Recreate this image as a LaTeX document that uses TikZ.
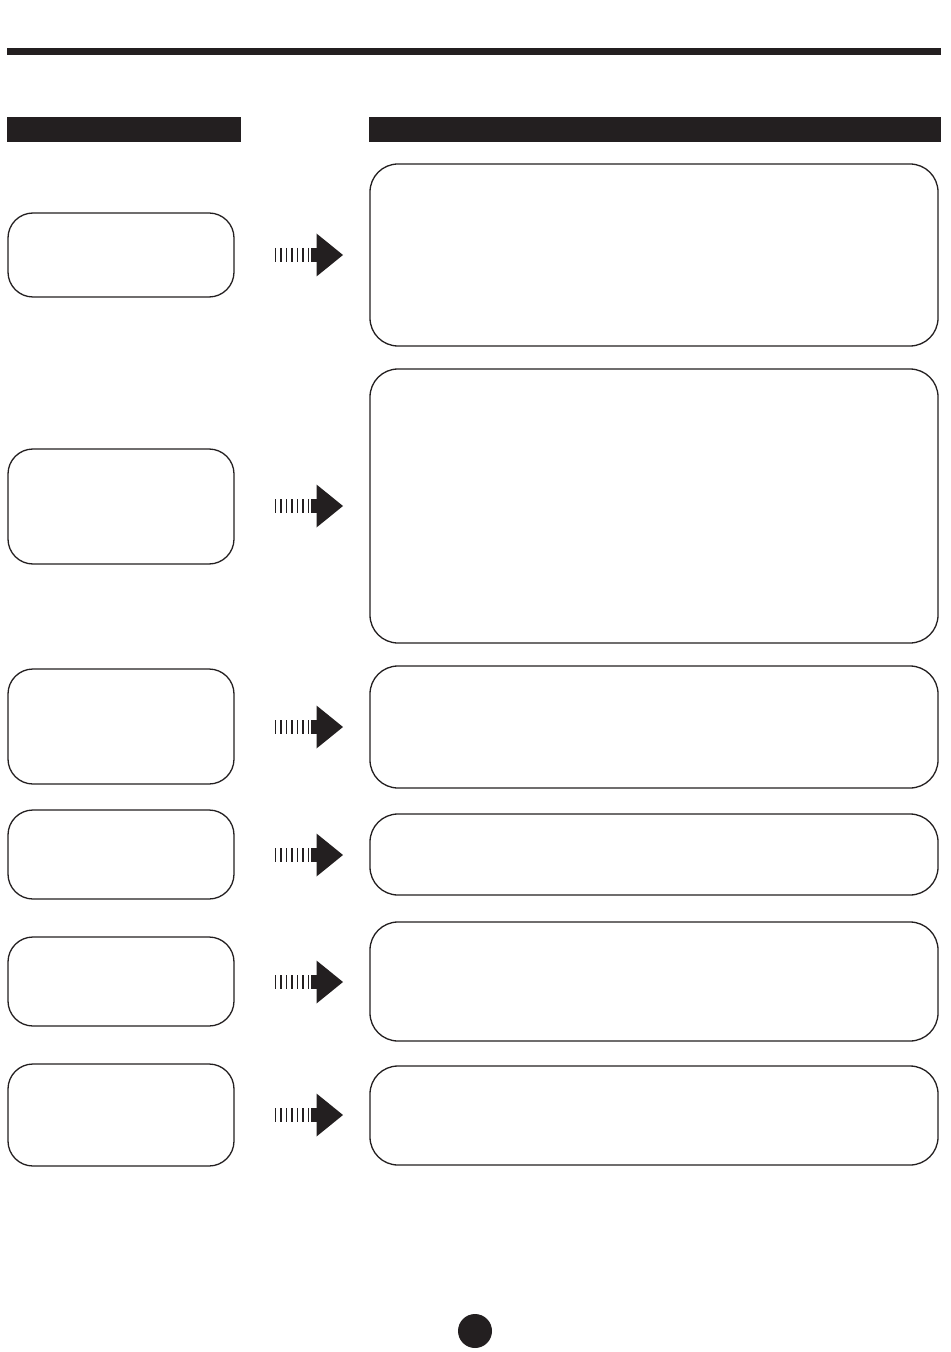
\documentclass[tikz,border=0pt]{standalone}
\usetikzlibrary{fit}
\definecolor{ink}{HTML}{231F20}
\tikzset{
  box/.style={draw=ink, line width=0.65pt, rounded corners=12.5pt, inner sep=0pt, fill=white},
  bar/.style={fill=ink, draw=none, inner sep=0pt},
  stripe/.style={draw=ink, line width=0.75pt},
  head/.style={fill=ink, draw=none}
}
\newcommand{\hatcharrow}[2]{%
  \foreach \k in {0,...,6} {\draw[stripe] (275.5+5.5*\k,#2-7) -- (275.5+5.5*\k,#2+7);}
  \fill[ink] (311,#2-7) rectangle (317.5,#2+7);
  \node[inner sep=0pt] (#1) at (330,#2) {};
  \fill[head] (316.5,#2-21.5) -- (343,#2) -- (316.5,#2+21.5) -- cycle;
}
\begin{document}
\begin{tikzpicture}[x=0.5pt,y=-0.5pt]
\useasboundingbox (0,0) rectangle (950,1352);
% top rule and header bars
\node[bar, fit={(7,48)(941,55)}] (rule) {};
\node[bar, fit={(7,117)(241,142)}] (hleft) {};
\node[bar, fit={(369,117)(941,142)}] (hright) {};
% left boxes
\node[box, fit={(8,213)(234,297)}] (l1) {};
\node[box, fit={(8,449)(234,564)}] (l2) {};
\node[box, fit={(8,669)(234,784)}] (l3) {};
\node[box, fit={(8,810)(234,899)}] (l4) {};
\node[box, fit={(8,937)(234,1026)}] (l5) {};
\node[box, fit={(8,1064)(234,1166)}] (l6) {};
% right boxes
\node[box, fit={(370,164)(938,346)}, rounded corners=14pt] (r1) {};
\node[box, fit={(370,369)(938,643)}, rounded corners=14pt] (r2) {};
\node[box, fit={(370,666)(938,788)}, rounded corners=14pt] (r3) {};
\node[box, fit={(370,814)(938,895)}, rounded corners=14pt] (r4) {};
\node[box, fit={(370,922)(938,1041)}, rounded corners=14pt] (r5) {};
\node[box, fit={(370,1066)(938,1165)}, rounded corners=14pt] (r6) {};
% arrows
\hatcharrow{a1}{255}
\hatcharrow{a2}{506}
\hatcharrow{a3}{727}
\hatcharrow{a4}{855}
\hatcharrow{a5}{982}
\hatcharrow{a6}{1115}
% page dot
\node[circle, fill=ink, inner sep=0pt, minimum size=17pt] (dot) at (475,1331) {};
\end{tikzpicture}
\end{document}
